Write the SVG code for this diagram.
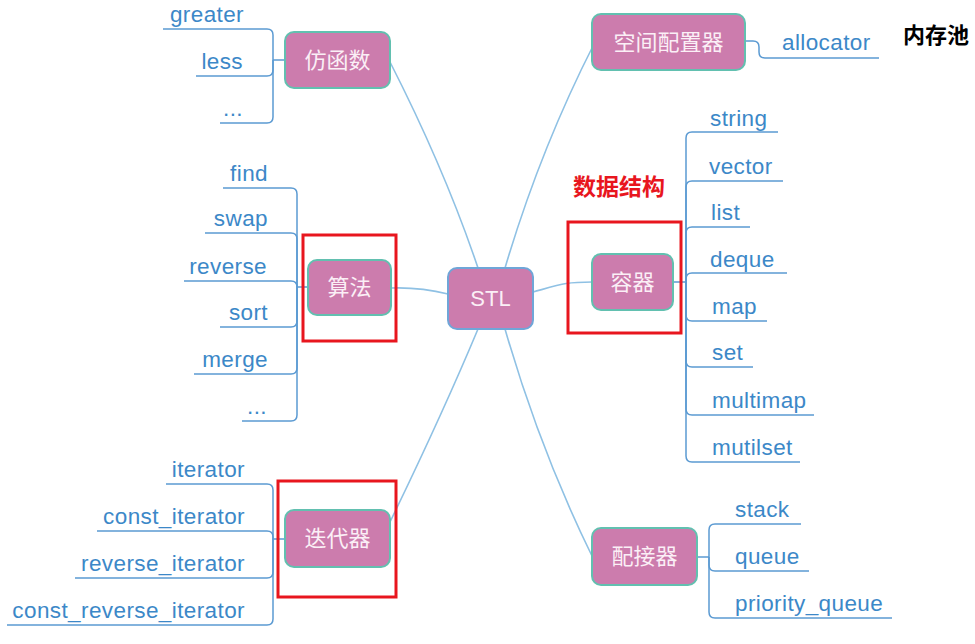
<svg xmlns="http://www.w3.org/2000/svg" width="975" height="644" viewBox="0 0 975 644">
<style>
.node rect{fill:#CC7CAD;stroke:#62C0B0;stroke-width:2}
.node text{fill:#FBEFF6;font-family:"Noto Sans CJK SC","Liberation Sans",sans-serif;font-size:22px;text-anchor:middle}
.stl rect{stroke:#6FA6D8}
.stl text{font-family:"Liberation Sans","Noto Sans CJK SC",sans-serif}
.conn{fill:none;stroke:#8FC1E4;stroke-width:1.6}
.br{fill:none;stroke:#5B9AD2;stroke-width:1.5}
.leaf{fill:#3C88C8;font-family:"Liberation Sans",sans-serif;font-size:22.5px;letter-spacing:0.4px}
.l{text-anchor:end}
.hl{fill:none;stroke:#E8161E;stroke-width:3}
</style>
<rect width="975" height="644" fill="#FFFFFF"/>
<g id="connectors">
<path class="conn" d="M478,268 Q445,170 390,62"/>
<path class="conn" d="M505,268 Q540,150 594,44"/>
<path class="conn" d="M448,294 Q420,287 391,288"/>
<path class="conn" d="M533,292 C562,284 566,282 592,282"/>
<path class="conn" d="M478,329 Q442,415 390,522"/>
<path class="conn" d="M505,329 Q540,450 592,556"/>
<path class="br" d="M285,60 H273"/>
<path class="br" d="M273,60 V35 Q273,29 267,29 H163"/>
<path class="br" d="M273,60 V70 Q273,76 267,76 H196"/>
<path class="br" d="M273,60 V117 Q273,123 267,123 H220"/>
<path class="br" d="M308,287 H297"/>
<path class="br" d="M297,287 V194 Q297,188 291,188 H223"/>
<path class="br" d="M297,287 V239 Q297,233 291,233 H205"/>
<path class="br" d="M297,287 Q297,281 291,281 H184"/>
<path class="br" d="M297,287 V321 Q297,327 291,327 H220"/>
<path class="br" d="M297,287 V368 Q297,374 291,374 H194"/>
<path class="br" d="M297,287 V415 Q297,421 291,421 H242"/>
<path class="br" d="M285,539 H273"/>
<path class="br" d="M273,539 V490 Q273,484 267,484 H166"/>
<path class="br" d="M273,539 V537 Q273,531 267,531 H97"/>
<path class="br" d="M273,539 V572 Q273,578 267,578 H75"/>
<path class="br" d="M273,539 V619 Q273,625 267,625 H7"/>
<path class="br" d="M673,282 H686"/>
<path class="br" d="M686,282 V138 Q686,132 692,132 H778"/>
<path class="br" d="M686,282 V187 Q686,181 692,181 H783"/>
<path class="br" d="M686,282 V233 Q686,227 692,227 H750"/>
<path class="br" d="M686,282 V279 Q686,273 692,273 H787"/>
<path class="br" d="M686,282 V315 Q686,321 692,321 H767"/>
<path class="br" d="M686,282 V361 Q686,367 692,367 H753"/>
<path class="br" d="M686,282 V409 Q686,415 692,415 H814"/>
<path class="br" d="M686,282 V456 Q686,462 692,462 H800"/>
<path class="br" d="M697,557 H709"/>
<path class="br" d="M709,557 V530 Q709,524 715,524 H801"/>
<path class="br" d="M709,557 V565 Q709,571 715,571 H809"/>
<path class="br" d="M709,557 V612 Q709,618 715,618 H892"/>
<path class="br" d="M745,41 H753 Q759,41 759,47 V52 Q759,58 765,58 H879"/>
</g>
<g id="node-stl" class="node stl"><rect x="448" y="268" width="85" height="61" rx="9"/><text x="490.5" y="306">STL</text></g>
<g id="node-fanghanshu" class="node"><rect x="285" y="32" width="105" height="56" rx="9"/><text x="337.5" y="68">仿函数</text></g>
<g id="node-kongjian" class="node"><rect x="592" y="14" width="153" height="56" rx="9"/><text x="668.5" y="50">空间配置器</text></g>
<g id="node-suanfa" class="node"><rect x="308" y="260" width="83" height="55" rx="9"/><text x="349.5" y="295">算法</text></g>
<g id="node-rongqi" class="node"><rect x="592" y="254" width="81" height="56" rx="9"/><text x="632.5" y="290">容器</text></g>
<g id="node-diedaiqi" class="node"><rect x="285" y="510" width="105" height="57" rx="9"/><text x="337.5" y="546">迭代器</text></g>
<g id="node-peijieqi" class="node"><rect x="592" y="528" width="105" height="57" rx="9"/><text x="644.5" y="564">配接器</text></g>
<g id="leaves-fanghanshu">
<text class="leaf l" x="244" y="22">greater</text>
<text class="leaf l" x="243" y="69">less</text>
<text class="leaf l" x="243" y="116">...</text>
</g>
<g id="leaves-suanfa">
<text class="leaf l" x="268" y="181">find</text>
<text class="leaf l" x="268" y="226">swap</text>
<text class="leaf l" x="267" y="274">reverse</text>
<text class="leaf l" x="268" y="320">sort</text>
<text class="leaf l" x="268" y="367">merge</text>
<text class="leaf l" x="267" y="414">...</text>
</g>
<g id="leaves-diedaiqi">
<text class="leaf l" x="245" y="477">iterator</text>
<text class="leaf l" x="245" y="524">const_iterator</text>
<text class="leaf l" x="245" y="571">reverse_iterator</text>
<text class="leaf l" x="245" y="618">const_reverse_iterator</text>
</g>
<g id="leaves-rongqi">
<text class="leaf" x="710" y="126">string</text>
<text class="leaf" x="709" y="174">vector</text>
<text class="leaf" x="711" y="220">list</text>
<text class="leaf" x="710" y="267">deque</text>
<text class="leaf" x="712" y="314">map</text>
<text class="leaf" x="712" y="360">set</text>
<text class="leaf" x="712" y="408">multimap</text>
<text class="leaf" x="712" y="455">mutilset</text>
</g>
<g id="leaves-peijieqi">
<text class="leaf" x="735" y="517">stack</text>
<text class="leaf" x="735" y="564">queue</text>
<text class="leaf" x="735" y="611">priority_queue</text>
</g>
<g id="leaf-allocator"><text class="leaf" x="782" y="50">allocator</text></g>
<g id="note-neicunchi"><text x="903" y="43" style="font-family:'Noto Sans CJK SC',sans-serif;font-weight:bold;font-size:22px;fill:#000">内存池</text></g>
<g id="note-shujujiegou"><text x="573" y="195" style="font-family:'Noto Sans CJK SC',sans-serif;font-weight:bold;font-size:23px;fill:#E8161E">数据结构</text></g>
<g id="highlights">
<rect class="hl" x="303" y="235" width="93" height="106"/>
<rect class="hl" x="568" y="222" width="113" height="111"/>
<rect class="hl" x="278" y="481" width="118" height="116"/>
</g>
</svg>
